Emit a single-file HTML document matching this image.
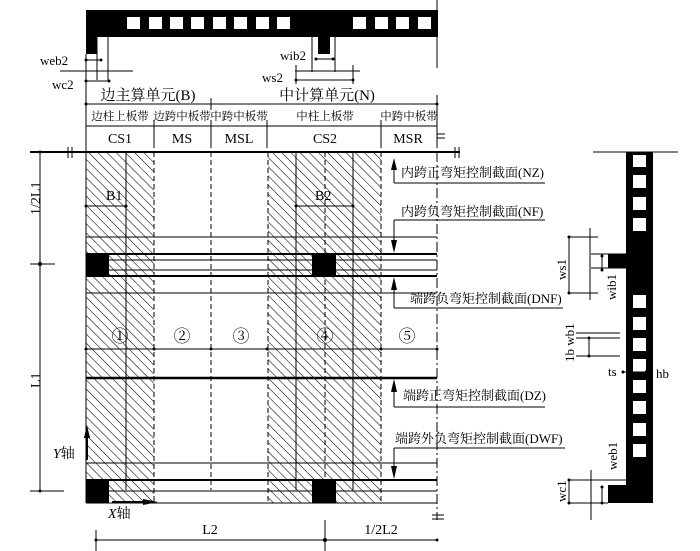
<!DOCTYPE html>
<html><head><meta charset="utf-8"><style>
body{margin:0;background:#fff;}
svg{display:block;font-family:"Liberation Serif","Noto Serif CJK SC",serif;}
text{fill:#000;}
</style></head><body>
<svg width="700" height="551" viewBox="0 0 700 551" xmlns="http://www.w3.org/2000/svg">
<defs>
<pattern id="h" patternUnits="userSpaceOnUse" width="6.5" height="6.5" patternTransform="rotate(-45)">
<rect width="6.5" height="6.5" fill="#fff"/><line x1="0" y1="0" x2="0" y2="6.5" stroke="#000" stroke-width="1.1"/>
</pattern>
<marker id="a" markerWidth="6" markerHeight="6" refX="3" refY="3" orient="auto"><circle cx="3" cy="3" r="1.5" fill="#000"/></marker>
</defs>
<g stroke="#000" fill="none">
<rect x="86" y="10" width="352" height="27" fill="#000" stroke="none"/>
<rect x="86" y="37" width="11" height="17" fill="#000" stroke="none"/>
<rect x="318" y="37" width="12" height="17" fill="#000" stroke="none"/>
<g fill="#fff" stroke="none">
<rect x="127" y="17" width="13" height="12"/><rect x="149" y="17" width="13" height="12"/><rect x="170" y="17" width="13" height="12"/><rect x="191" y="17" width="13" height="12"/><rect x="213" y="17" width="13" height="12"/><rect x="234" y="17" width="13" height="12"/><rect x="256" y="17" width="13" height="12"/><rect x="277" y="17" width="13" height="12"/>
<rect x="353" y="17" width="13" height="12"/><rect x="375" y="17" width="13" height="12"/><rect x="396" y="17" width="13" height="12"/><rect x="418" y="17" width="13" height="12"/>
</g>
<line x1="437" y1="0" x2="437" y2="68" stroke-width="1"/>
<line x1="97" y1="37" x2="97" y2="80"/><line x1="108" y1="37" x2="108" y2="80"/>
<line x1="60" y1="71" x2="133" y2="71"/>
<line x1="86" y1="54" x2="86" y2="152"/>
<line x1="86" y1="60" x2="101" y2="60" marker-start="url(#a)" marker-end="url(#a)"/>
<line x1="86" y1="81" x2="109" y2="81" marker-start="url(#a)" marker-end="url(#a)"/>
<line x1="312" y1="37" x2="312" y2="72"/><line x1="335" y1="37" x2="335" y2="72"/>
<line x1="295" y1="71" x2="360" y2="71"/>
<line x1="296" y1="65" x2="296" y2="84"/><line x1="353" y1="65" x2="353" y2="84"/>
<line x1="316" y1="59" x2="333" y2="59" marker-start="url(#a)" marker-end="url(#a)"/>
<line x1="296" y1="80" x2="353" y2="80" marker-start="url(#a)" marker-end="url(#a)"/>
<line x1="86" y1="104" x2="437" y2="104" marker-start="url(#a)" marker-end="url(#a)"/>
<line x1="86" y1="126" x2="437" y2="126"/>
<line x1="211" y1="98" x2="211" y2="110"/>
<g stroke-width="1">
<line x1="86" y1="95" x2="86" y2="148"/><line x1="154" y1="120" x2="154" y2="148"/><line x1="211" y1="120" x2="211" y2="148"/><line x1="267" y1="120" x2="267" y2="148"/><line x1="381" y1="120" x2="381" y2="148"/><line x1="437" y1="95" x2="437" y2="148"/>
</g>
<line x1="437" y1="134" x2="445" y2="134"/><line x1="437" y1="138" x2="445" y2="138"/>
<rect x="86" y="152" width="68" height="351" fill="url(#h)" stroke="none"/>
<rect x="268" y="152" width="113" height="351" fill="url(#h)" stroke="none"/>
<line x1="30" y1="152" x2="460" y2="152" stroke-width="2"/>
<line x1="68" y1="147" x2="68" y2="158"/><line x1="72" y1="147" x2="72" y2="158"/>
<line x1="455" y1="147" x2="455" y2="158"/><line x1="459" y1="147" x2="459" y2="158"/>
<line x1="86" y1="152" x2="86" y2="503"/>
<line x1="126" y1="152" x2="126" y2="490"/>
<line x1="296" y1="152" x2="296" y2="490"/>
<line x1="353" y1="152" x2="353" y2="490"/>
<g stroke-dasharray="5,3"><line x1="154" y1="152" x2="154" y2="503"/><line x1="211" y1="152" x2="211" y2="490"/><line x1="268" y1="152" x2="268" y2="503"/><line x1="325" y1="152" x2="325" y2="490"/><line x1="381" y1="152" x2="381" y2="503"/></g>
<line x1="437" y1="152" x2="437" y2="520" stroke-dasharray="10,3,2,3"/>
<line x1="86" y1="237" x2="437" y2="237"/>
<line x1="86" y1="254" x2="437" y2="254" stroke-width="2"/>
<line x1="108" y1="260" x2="437" y2="260"/><line x1="108" y1="270" x2="437" y2="270"/>
<line x1="86" y1="276" x2="437" y2="276" stroke-width="2"/>
<line x1="86" y1="293" x2="437" y2="293"/>
<line x1="86" y1="349" x2="437" y2="349"/>
<g fill="#000" stroke="none"><circle cx="86" cy="349" r="1.5"/><circle cx="154" cy="349" r="1.5"/><circle cx="211" cy="349" r="1.5"/><circle cx="267" cy="349" r="1.5"/><circle cx="381" cy="349" r="1.5"/><circle cx="437" cy="349" r="1.5"/></g>
<line x1="86" y1="378" x2="437" y2="378" stroke-width="2.5"/>
<line x1="86" y1="463" x2="437" y2="463"/>
<line x1="86" y1="480" x2="437" y2="480" stroke-width="2"/>
<line x1="108" y1="491" x2="437" y2="491"/>
<line x1="86" y1="503" x2="437" y2="503"/>
<rect x="86" y="254" width="23" height="22" fill="#000" stroke="none"/>
<rect x="312" y="254" width="24" height="22" fill="#000" stroke="none"/>
<rect x="86" y="480" width="23" height="23" fill="#000" stroke="none"/>
<rect x="312" y="480" width="24" height="23" fill="#000" stroke="none"/>
<line x1="86" y1="206" x2="126" y2="206" marker-start="url(#a)" marker-end="url(#a)"/>
<line x1="296" y1="206" x2="353" y2="206" marker-start="url(#a)" marker-end="url(#a)"/>
<line x1="87" y1="460" x2="87" y2="430" stroke-width="2"/><polygon points="84,438 90,438 87,425" fill="#000" stroke="none"/>
<line x1="112" y1="502" x2="150" y2="502" stroke-width="2"/><polygon points="143,499 143,505 158,502" fill="#000" stroke="none"/>
<line x1="40" y1="152" x2="40" y2="491" marker-start="url(#a)" marker-end="url(#a)"/>
<line x1="30" y1="264" x2="55" y2="264"/><circle cx="40" cy="264" r="1.5" fill="#000"/>
<line x1="30" y1="491" x2="64" y2="491"/>
<line x1="96" y1="530" x2="96" y2="551"/><line x1="325" y1="520" x2="325" y2="551"/>
<line x1="96" y1="540" x2="437" y2="540" marker-start="url(#a)" marker-end="url(#a)"/>
<circle cx="325" cy="540" r="1.5" fill="#000"/>
<line x1="432" y1="515" x2="444" y2="515"/><line x1="432" y1="519" x2="444" y2="519"/>
<line x1="394" y1="160" x2="394" y2="183"/><polygon points="391,170 397,170 394,158" fill="#000" stroke="none"/><line x1="394" y1="183" x2="545" y2="183"/>
<line x1="394" y1="220" x2="394" y2="246"/><polygon points="391,240 397,240 394,253" fill="#000" stroke="none"/><line x1="394" y1="220" x2="545" y2="220"/>
<line x1="394" y1="282" x2="394" y2="308"/><polygon points="391,290 397,290 394,277" fill="#000" stroke="none"/><line x1="394" y1="308" x2="563" y2="308"/>
<line x1="394" y1="384" x2="394" y2="407"/><polygon points="391,392 397,392 394,379" fill="#000" stroke="none"/><line x1="394" y1="407" x2="545" y2="407"/>
<line x1="394" y1="448" x2="394" y2="472"/><polygon points="391,466 397,466 394,479" fill="#000" stroke="none"/><line x1="394" y1="448" x2="565" y2="448"/>
<line x1="593" y1="152" x2="678" y2="152"/>
<rect x="626" y="152" width="27" height="351" fill="#000" stroke="none"/>
<rect x="608" y="254" width="18" height="14" fill="#000" stroke="none"/>
<rect x="608" y="485" width="20" height="18" fill="#000" stroke="none"/>
<g fill="#fff" stroke="none">
<rect x="633" y="155" width="13" height="12"/><rect x="633" y="175" width="13" height="13"/><rect x="633" y="197" width="13" height="13"/><rect x="633" y="218" width="13" height="13"/>
<rect x="633" y="295" width="13" height="13"/><rect x="633" y="317" width="13" height="13"/><rect x="633" y="338" width="13" height="13"/><rect x="633" y="359" width="13" height="13"/><rect x="633" y="380" width="13" height="13"/><rect x="633" y="401" width="13" height="13"/><rect x="633" y="423" width="13" height="13"/><rect x="633" y="444" width="13" height="13"/>
</g>
<line x1="569" y1="237" x2="598" y2="237" marker-start="url(#a)"/><line x1="569" y1="293" x2="598" y2="293" marker-start="url(#a)"/>
<line x1="569" y1="237" x2="569" y2="293"/><line x1="590" y1="228" x2="590" y2="300"/>
<line x1="591" y1="254" x2="626" y2="254"/><line x1="591" y1="268" x2="626" y2="268"/>
<line x1="602" y1="256" x2="602" y2="270" marker-start="url(#a)" marker-end="url(#a)"/>
<line x1="576" y1="333" x2="620" y2="333"/><line x1="576" y1="338" x2="620" y2="338"/><line x1="576" y1="356" x2="620" y2="356"/>
<line x1="589" y1="338" x2="589" y2="356" marker-start="url(#a)" marker-end="url(#a)"/>
<line x1="623" y1="372" x2="646" y2="372" marker-start="url(#a)" marker-end="url(#a)"/>
<line x1="569" y1="480" x2="627" y2="480" marker-start="url(#a)"/><line x1="569" y1="503" x2="608" y2="503" marker-start="url(#a)"/>
<line x1="569" y1="480" x2="569" y2="503"/><line x1="591" y1="470" x2="591" y2="520"/>
<line x1="602" y1="487" x2="602" y2="503" marker-start="url(#a)" marker-end="url(#a)"/>
</g>
<g font-size="13">
<text x="40" y="65">web2</text>
<text x="52" y="89">wc2</text>
<text x="280" y="60">wib2</text>
<text x="262" y="82">ws2</text>
<text x="148" y="100" text-anchor="middle" font-size="15">边主算单元(B)</text>
<text x="327" y="100" text-anchor="middle" font-size="15">中计算单元(N)</text>
<g font-size="11.5" text-anchor="middle">
<text x="120" y="120">边柱上板带</text>
<text x="182" y="120">边跨中板带</text>
<text x="239" y="120">中跨中板带</text>
<text x="325" y="120">中柱上板带</text>
<text x="409" y="120">中跨中板带</text>
</g>
<text x="120" y="143" text-anchor="middle" font-size="14">CS1</text>
<text x="182" y="143" text-anchor="middle" font-size="14">MS</text>
<text x="239" y="143" text-anchor="middle" font-size="14">MSL</text>
<text x="325" y="143" text-anchor="middle" font-size="14">CS2</text>
<text x="408" y="143" text-anchor="middle" font-size="14">MSR</text>
<text x="106" y="200" font-size="14">B1</text>
<text x="315" y="200" font-size="14">B2</text>
<g font-size="17" text-anchor="middle"><text x="120" y="342">①</text><text x="182" y="342">②</text><text x="241" y="342">③</text><text x="325" y="342">④</text><text x="407" y="342">⑤</text></g>
<text x="53" y="458" font-size="14"><tspan font-style="italic">Y</tspan>轴</text>
<text x="108" y="518" font-size="14"><tspan font-style="italic">X</tspan>轴</text>
<text x="210" y="534" text-anchor="middle" font-size="14">L2</text>
<text x="381" y="534" text-anchor="middle" font-size="14">1/2L2</text>
<text transform="translate(40,215) rotate(-90)" font-size="14">1/2L1</text>
<text transform="translate(40,388) rotate(-90)" font-size="14">L1</text>
<text x="401" y="177">内跨正弯矩控制截面(NZ)</text>
<text x="401" y="216">内跨负弯矩控制截面(NF)</text>
<text x="410" y="303">端跨负弯矩控制截面(DNF)</text>
<text x="403" y="400">端跨正弯矩控制截面(DZ)</text>
<text x="395" y="443">端跨外负弯矩控制截面(DWF)</text>
<text transform="translate(566,280) rotate(-90)">ws1</text>
<text transform="translate(616,300) rotate(-90)">wib1</text>
<text transform="translate(574,362) rotate(-90)">1b wb1</text>
<text x="608" y="376">ts</text>
<text x="656" y="378">hb</text>
<text transform="translate(617,470) rotate(-90)">web1</text>
<text transform="translate(566,502) rotate(-90)">wc1</text>
</g>
</svg>
</body></html>
